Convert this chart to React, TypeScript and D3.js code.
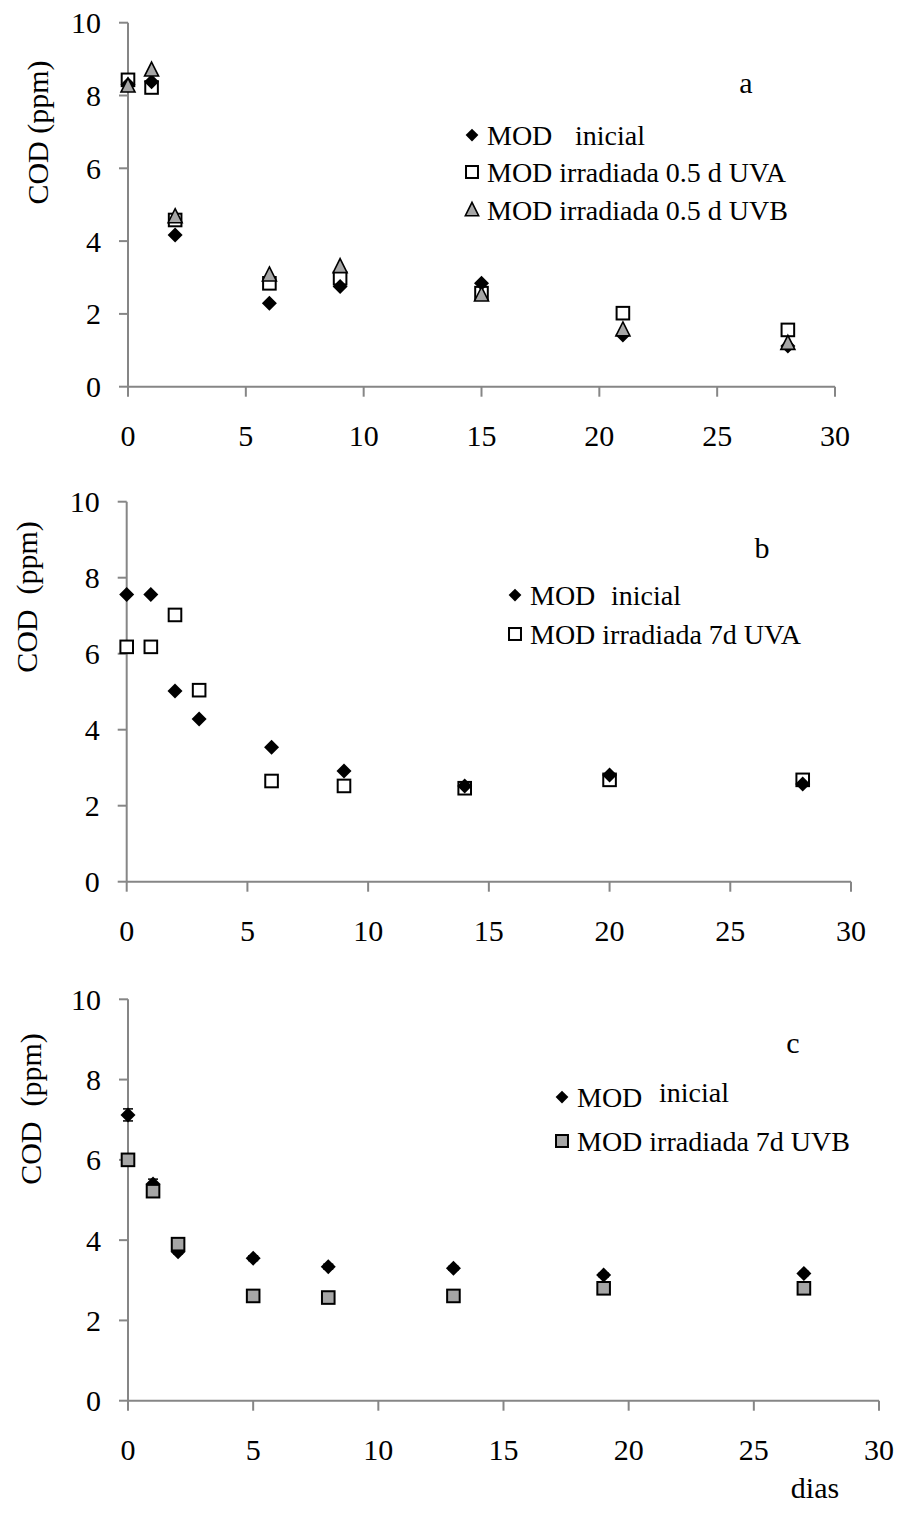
import React from "react";
import * as d3 from "d3";

// ---------- data ----------
const daysA = [0, 1, 2, 6, 9, 15, 21, 28];
const aInicial = [8.3, 8.38, 4.17, 2.29, 2.75, 2.84, 1.42, 1.12];
const aUVA = [8.43, 8.22, 4.58, 2.84, 2.98, 2.57, 2.02, 1.56];
const aUVB = [8.26, 8.7, 4.67, 3.07, 3.3, 2.52, 1.56, 1.19];

const daysB = [0, 1, 2, 3, 6, 9, 14, 20, 28];
const bInicial = [7.56, 7.56, 5.02, 4.28, 3.54, 2.91, 2.52, 2.81, 2.57];
const bUVA = [6.18, 6.18, 7.02, 5.04, 2.65, 2.52, 2.46, 2.68, 2.68];

const daysC = [0, 1, 2, 5, 8, 13, 19, 27];
const cInicial = [7.12, 5.4, 3.71, 3.55, 3.34, 3.3, 3.13, 3.17];
const cInicialErr = [0.15, 0.12, 0.05, 0.06, 0.06, 0.05, 0.05, 0.05];
const cUVB = [6.0, 5.22, 3.9, 2.61, 2.57, 2.61, 2.8, 2.8];

const xTicks = [0, 5, 10, 15, 20, 25, 30];
const yTicks = [0, 2, 4, 6, 8, 10];

const legendA = ["MOD irradiada 0.5 d UVA", "MOD irradiada 0.5 d UVB"];
const legendB = ["MOD irradiada 7d UVA"];
const legendC = ["MOD irradiada 7d UVB"];

// ---------- style ----------
const FONT = "'Liberation Serif', 'Times New Roman', Times, serif";
const AXIS = "#868686";
const GRAY = "#a6a6a6";

type Shape = "diamond" | "square" | "triangle";

function marker(shape: Shape, cx: number, cy: number, fill: string, key: string, s = 1) {
  if (shape === "diamond") {
    const r = 7.5 * s;
    return (
      <path key={key} d={`M${cx},${cy - r}L${cx + r},${cy}L${cx},${cy + r}L${cx - r},${cy}Z`} fill="#000" />
    );
  }
  if (shape === "square") {
    const h = 6.3 * s;
    return (
      <rect key={key} x={cx - h} y={cy - h} width={2 * h} height={2 * h} fill={fill} stroke="#000" strokeWidth={2} />
    );
  }
  const w = 7 * s;
  return (
    <path
      key={key}
      d={`M${cx},${cy - 8 * s}L${cx + w},${cy + 6 * s}L${cx - w},${cy + 6 * s}Z`}
      fill={fill}
      stroke="#000"
      strokeWidth={1.6}
    />
  );
}

type Series = { days: number[]; vals: number[]; shape: Shape; fill: string; err?: number[] };

type PanelProps = {
  x0: number;
  x1: number;
  yTop: number;
  yBot: number;
  series: Series[];
  ylabel: string;
  ylabelPos: [number, number];
  letter: string;
  letterPos: [number, number];
  legendX: number;
  legendTextX: number;
  inicialX: number;
  inicialDy: number;
  legendRows: number[];
  legendItems: { shape: Shape; fill: string; label: string }[];
};

function Panel(p: PanelProps) {
  const x = d3.scaleLinear().domain([0, 30]).range([p.x0, p.x1]);
  const y = d3.scaleLinear().domain([0, 10]).range([p.yBot, p.yTop]);
  return (
    <g>
      {/* axes */}
      <line x1={x(0)} x2={x(30)} y1={y(0)} y2={y(0)} stroke={AXIS} strokeWidth={2} />
      <line x1={x(0)} x2={x(0)} y1={y(0)} y2={y(10)} stroke={AXIS} strokeWidth={2} />
      {xTicks.map((t) => (
        <g key={"xt" + t}>
          <line x1={x(t)} x2={x(t)} y1={y(0)} y2={y(0) + 10} stroke={AXIS} strokeWidth={2} />
          <text x={x(t)} y={y(0) + 49} textAnchor="middle" dominantBaseline="central" fontSize={30} fontFamily={FONT}>
            {t}
          </text>
        </g>
      ))}
      {yTicks.map((t) => (
        <g key={"yt" + t}>
          <line x1={x(0) - 9} x2={x(0)} y1={y(t)} y2={y(t)} stroke={AXIS} strokeWidth={2} />
          <text x={x(0) - 27} y={y(t)} textAnchor="end" dominantBaseline="central" fontSize={30} fontFamily={FONT}>
            {t}
          </text>
        </g>
      ))}
      <text
        transform={`translate(${p.ylabelPos[0]},${p.ylabelPos[1]}) rotate(-90)`}
        textAnchor="middle"
        dominantBaseline="central"
        fontSize={30}
        fontFamily={FONT}
        style={{ whiteSpace: "pre" }}
      >
        {p.ylabel}
      </text>
      <text x={p.letterPos[0]} y={p.letterPos[1]} textAnchor="middle" dominantBaseline="central" fontSize={30} fontFamily={FONT}>
        {p.letter}
      </text>
      {/* data */}
      {p.series.map((s, si) => (
        <g key={"s" + si}>
          {s.err &&
            s.days.map((d, i) => (
              <g key={"e" + i}>
                <line x1={x(d)} x2={x(d)} y1={y(s.vals[i] - s.err![i])} y2={y(s.vals[i] + s.err![i])} stroke="#000" strokeWidth={1.5} />
                <line x1={x(d) - 5} x2={x(d) + 5} y1={y(s.vals[i] - s.err![i])} y2={y(s.vals[i] - s.err![i])} stroke="#000" strokeWidth={1.5} />
                <line x1={x(d) - 5} x2={x(d) + 5} y1={y(s.vals[i] + s.err![i])} y2={y(s.vals[i] + s.err![i])} stroke="#000" strokeWidth={1.5} />
              </g>
            ))}
          {s.days.map((d, i) => marker(s.shape, x(d), y(s.vals[i]), s.fill, "m" + si + "_" + i))}
        </g>
      ))}
      {/* legend */}
      {p.legendItems.map((it, i) => (
        <g key={"lg" + i}>
          {marker(it.shape, p.legendX, p.legendRows[i], it.fill, "lm" + i, it.shape === "diamond" ? 0.85 : 0.95)}
          {it.label === "inicial" ? (
            <>
              <text x={p.legendTextX} y={p.legendRows[i] + 10} fontSize={28} fontFamily={FONT}>
                MOD
              </text>
              <text x={p.inicialX} y={p.legendRows[i] + 10 + p.inicialDy} fontSize={28} fontFamily={FONT}>
                inicial
              </text>
            </>
          ) : (
            <text x={p.legendTextX} y={p.legendRows[i] + 10} fontSize={28} fontFamily={FONT}>
              {it.label}
            </text>
          )}
        </g>
      ))}
    </g>
  );
}

export default function App() {
  return (
    <svg
      width={900}
      height={1517}
      viewBox="0 0 900 1517"
      style={{ position: "absolute", left: 0, top: 0, background: "#fff" }}
    >
      <rect width={900} height={1517} fill="#fff" />
      <Panel
        x0={128}
        x1={835}
        yTop={22.7}
        yBot={386.7}
        series={[
          { days: daysA, vals: aUVA, shape: "square", fill: "#fff" },
          { days: daysA, vals: aInicial, shape: "diamond", fill: "#000" },
          { days: daysA, vals: aUVB, shape: "triangle", fill: GRAY },
        ]}
        ylabel="COD (ppm)"
        ylabelPos={[37, 132.5]}
        letter="a"
        letterPos={[746, 82]}
        legendX={472}
        legendTextX={487}
        inicialX={575}
        inicialDy={0}
        legendRows={[135, 172, 210]}
        legendItems={[
          { shape: "diamond", fill: "#000", label: "inicial" },
          { shape: "square", fill: "#fff", label: legendA[0] },
          { shape: "triangle", fill: GRAY, label: legendA[1] },
        ]}
      />
      <Panel
        x0={126.7}
        x1={851}
        yTop={501.7}
        yBot={881.7}
        series={[
          { days: daysB, vals: bUVA, shape: "square", fill: "#fff" },
          { days: daysB, vals: bInicial, shape: "diamond", fill: "#000" },
        ]}
        ylabel="COD  (ppm)"
        ylabelPos={[26, 597]}
        letter="b"
        letterPos={[762, 547]}
        legendX={515}
        legendTextX={530}
        inicialX={611}
        inicialDy={0}
        legendRows={[595, 634]}
        legendItems={[
          { shape: "diamond", fill: "#000", label: "inicial" },
          { shape: "square", fill: "#fff", label: legendB[0] },
        ]}
      />
      <Panel
        x0={128}
        x1={879}
        yTop={999.3}
        yBot={1400.7}
        series={[
          { days: daysC, vals: cInicial, shape: "diamond", fill: "#000", err: cInicialErr },
          { days: daysC, vals: cUVB, shape: "square", fill: GRAY },
        ]}
        ylabel="COD  (ppm)"
        ylabelPos={[30, 1109]}
        letter="c"
        letterPos={[793, 1042]}
        legendX={562}
        legendTextX={577}
        inicialX={659}
        inicialDy={-5}
        legendRows={[1097, 1141]}
        legendItems={[
          { shape: "diamond", fill: "#000", label: "inicial" },
          { shape: "square", fill: GRAY, label: legendC[0] },
        ]}
      />
      <text x={815} y={1487} textAnchor="middle" dominantBaseline="central" fontSize={30} fontFamily={FONT}>
        dias
      </text>
    </svg>
  );
}
